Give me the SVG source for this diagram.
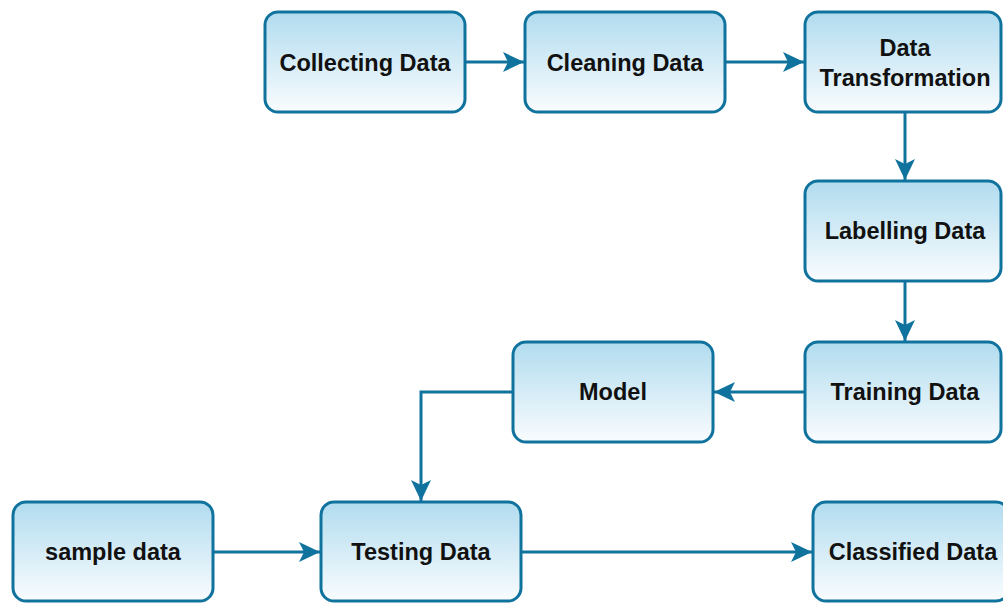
<svg xmlns="http://www.w3.org/2000/svg" width="1003" height="603" viewBox="0 0 1003 603">
<defs>
<linearGradient id="g" x1="0" y1="0" x2="0" y2="1">
<stop offset="0" stop-color="#b1dcef"/>
<stop offset="1" stop-color="#f9fcfe"/>
</linearGradient>
<marker id="arr" markerUnits="userSpaceOnUse" markerWidth="22" markerHeight="22" refX="21" refY="11" orient="auto" viewBox="0 0 22 22">
<path d="M0,1 L21,11 L0,21 L5,11 Z" fill="#10739e"/>
</marker>
<style>
.box{fill:url(#g);stroke:#10739e;stroke-width:3}
.t{font-family:"Liberation Sans",Arial,sans-serif;font-weight:bold;font-size:23.5px;fill:#111;text-anchor:middle;dominant-baseline:central}
.e{fill:none;stroke:#10739e;stroke-width:3;marker-end:url(#arr)}
</style>
</defs>
<rect width="1003" height="603" fill="#fff"/>
<g id="connectors">
<path class="e" d="M465,62 L524,62"/>
<path class="e" d="M725,62 L804,62"/>
<path class="e" d="M905,112 L905,180"/>
<path class="e" d="M905,281 L905,341"/>
<path class="e" d="M805,392 L714,392"/>
<path class="e" d="M513,392 L421,392 L421,501"/>
<path class="e" d="M213,552 L320,552"/>
<path class="e" d="M521,552 L812,552"/>
</g>
<g id="collecting"><rect class="box" x="265" y="12" width="200" height="100" rx="13"/><text class="t" x="365" y="63">Collecting Data</text></g>
<g id="cleaning"><rect class="box" x="525" y="12" width="200" height="100" rx="13"/><text class="t" x="625" y="63">Cleaning Data</text></g>
<g id="transformation"><rect class="box" x="805" y="12" width="196" height="100" rx="13"/><text class="t" x="905" y="48">Data</text><text class="t" x="905" y="78">Transformation</text></g>
<g id="labelling"><rect class="box" x="805" y="181" width="196" height="100" rx="13"/><text class="t" x="905" y="231">Labelling Data</text></g>
<g id="training"><rect class="box" x="805" y="342" width="196" height="100" rx="13"/><text class="t" x="905" y="392">Training Data</text></g>
<g id="model"><rect class="box" x="513" y="342" width="200" height="100" rx="13"/><text class="t" x="613" y="392">Model</text></g>
<g id="sample"><rect class="box" x="13" y="502" width="200" height="99" rx="13"/><text class="t" x="113" y="552">sample data</text></g>
<g id="testing"><rect class="box" x="321" y="502" width="200" height="99" rx="13"/><text class="t" x="421" y="552">Testing Data</text></g>
<g id="classified"><rect class="box" x="813" y="502" width="196" height="99" rx="13"/><text class="t" x="913" y="552">Classified Data</text></g>
</svg>
